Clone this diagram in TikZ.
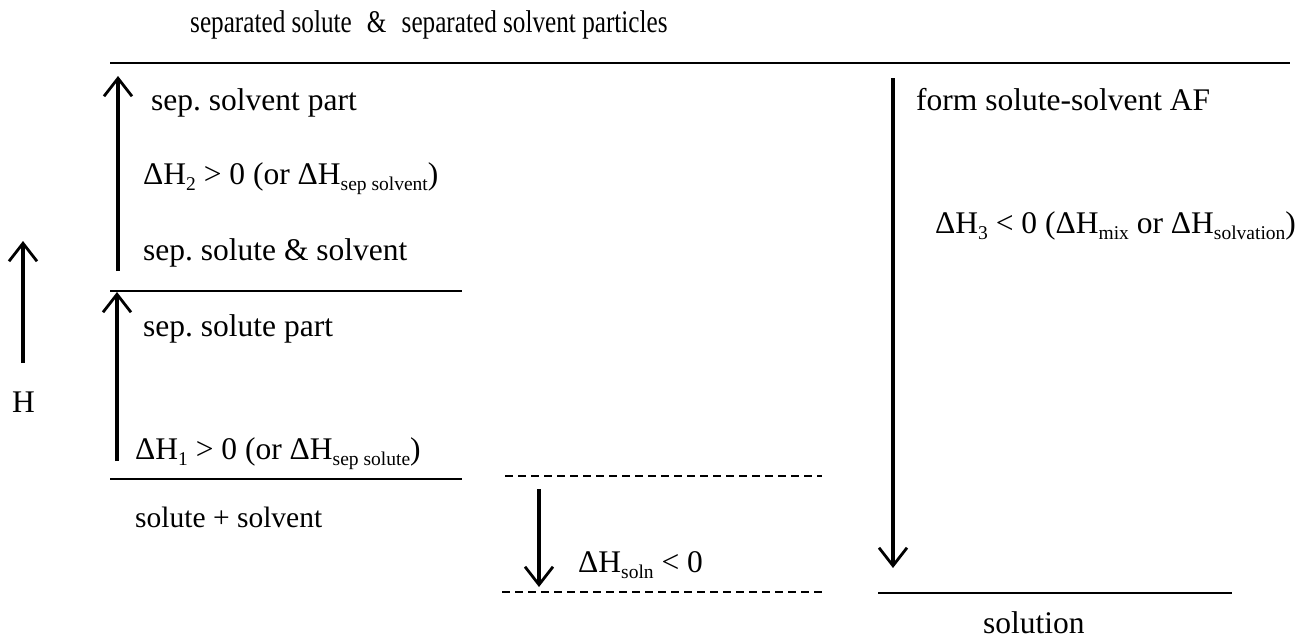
\documentclass[tikz,border=0pt]{standalone}
\usepackage{fontspec}
\setmainfont{Liberation Serif}
\usetikzlibrary{arrows.meta}
\newcommand\sbx[1]{\raisebox{-0.22em}{\fontsize{19.5}{20}\selectfont #1}}
\frenchspacing
\begin{document}
\begin{tikzpicture}[x=1pt,y=-1pt,
  txt/.style={anchor=base west,inner sep=0pt,font=\fontsize{31.5}{36}\selectfont},
  level/.style={line width=1.8pt},
  dlevel/.style={line width=1.8pt,dash pattern=on 8pt off 5pt},
  bigarrow/.style={line width=4pt,-{Straight Barb[length=18pt,width=28pt,line width=2.8pt]}}]
\useasboundingbox (0,0) rectangle (1298,640);
% level coordinates
\coordinate (topL) at (110,63);
\coordinate (topR) at (1290,63);
\coordinate (l2L) at (110,291);
\coordinate (l2R) at (462,291);
\coordinate (l1L) at (110,479);
\coordinate (l1R) at (462,479);
\coordinate (d1L) at (505,476);
\coordinate (d1R) at (822,476);
\coordinate (d2L) at (502,592);
\coordinate (d2R) at (822,592);
\coordinate (sL) at (878,593);
\coordinate (sR) at (1232,593);
% arrow end points
\coordinate (a1s) at (117,461);
\coordinate (a1e) at (117,292);
\coordinate (a2s) at (118,271);
\coordinate (a2e) at (118,76);
\coordinate (hs) at (23,363);
\coordinate (he) at (23,241);
\coordinate (ds) at (539,489);
\coordinate (de) at (539,587);
\coordinate (rs) at (893,78);
\coordinate (re) at (893,568);
% levels
\draw[level] (topL) -- (topR);
\draw[level] (l2L) -- (l2R);
\draw[level] (l1L) -- (l1R);
\draw[dlevel] (d1L) -- (d1R);
\draw[dlevel] (d2L) -- (d2R);
\draw[level] (sL) -- (sR);
% arrows
\draw[bigarrow] (a1s) -- (a1e);
\draw[bigarrow] (a2s) -- (a2e);
\draw[bigarrow] (hs) -- (he);
\draw[bigarrow] (ds) -- (de);
\draw[bigarrow] (rs) -- (re);
% texts
\node[txt] (title) at (190,32) {\scalebox{0.8}[1]{separated solute\hspace{0.6em}\&\hspace{0.6em}separated solvent particles}};
\node[txt] (t1) at (151,110) {sep. solvent part};
\node[txt] (t2) at (143,184) {ΔH\sbx{2} > 0 (or ΔH\sbx{sep solvent})};
\node[txt] (t3) at (143,260) {sep. solute \& solvent};
\node[txt] (t4) at (143,336) {sep. solute part};
\node[txt] (t5) at (135,459) {ΔH\sbx{1} > 0 (or ΔH\sbx{sep solute})};
\node[txt,font=\fontsize{29.5}{34}\selectfont] (t6) at (135,527) {solute + solvent};
\node[txt] (h) at (12,412) {H};
\node[txt] (t7) at (578,572) {ΔH\sbx{soln} < 0};
\node[txt] (t8) at (916,110) {form solute-solvent AF};
\node[txt] (t9) at (935,233) {ΔH\sbx{3} < 0 (ΔH\sbx{mix} or ΔH\sbx{solvation})};
\node[txt] (t10) at (983,633) {solution};
\end{tikzpicture}
\end{document}
